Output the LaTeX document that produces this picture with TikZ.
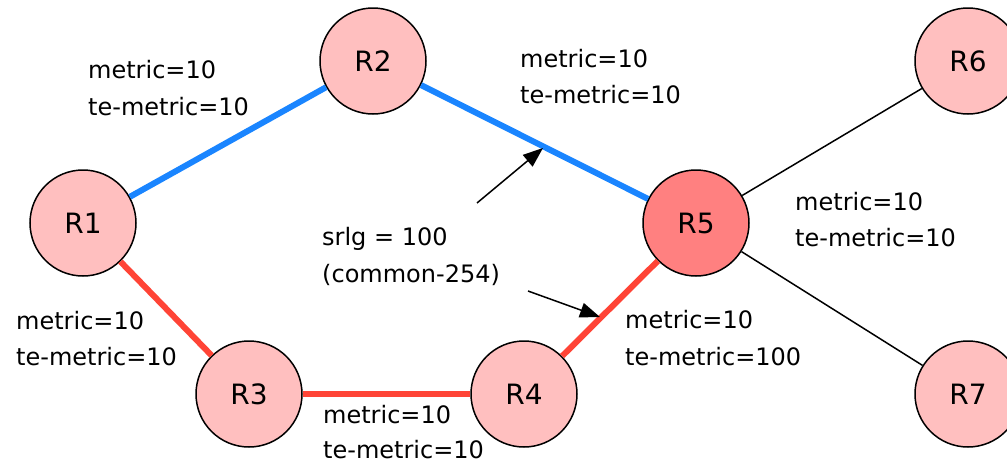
\documentclass[tikz,border=0pt]{standalone}
\usepackage{fontspec}
\setmainfont{DejaVu Sans}
\usetikzlibrary{arrows.meta}
\definecolor{routerfill}{HTML}{FFBFBF}
\definecolor{hotfill}{HTML}{FF8080}
\definecolor{pathblue}{HTML}{1A85FF}
\definecolor{pathred}{HTML}{FF4436}
\tikzset{
  router/.style={circle, draw=black, line width=1.5pt, fill=routerfill,
    minimum size=106pt, inner sep=0pt, font=\fontsize{28}{30}\selectfont},
  hot/.style={router, fill=hotfill},
  bluelink/.style={draw=pathblue, line width=6pt},
  redlink/.style={draw=pathred, line width=6pt},
  thinlink/.style={draw=black, line width=1.5pt},
  lab/.style={anchor=base west, inner sep=0pt, font=\fontsize{24}{28}\selectfont},
  pointer/.style={draw=black, line width=1.5pt, -{Triangle[length=20pt,width=15pt]}}
}
\begin{document}
\begin{tikzpicture}[x=1pt,y=-1pt]
\useasboundingbox (0,0) rectangle (1007,464);

% routers
\node[router] (R1) at (83,223) {R1};
\node[router] (R2) at (373,61) {R2};
\node[router] (R3) at (249,394) {R3};
\node[router] (R4) at (524,394) {R4};
\node[hot]    (R5) at (696,223) {R5};
\node[router] (R6) at (968,61) {R6};
\node[router] (R7) at (968,394) {R7};

% links between routers
\draw[bluelink] (R1) -- (R2);
\draw[bluelink] (R2) -- (R5);
\draw[redlink] (R1) -- (R3);
\draw[redlink] (R3) -- (R4);
\draw[redlink] (R4) -- (R5);
\draw[thinlink] (R5) -- (R6);
\draw[thinlink] (R5) -- (R7);

% link metrics
\node[lab] (m12a) at (88,78)  {metric=10};
\node[lab] (m12b) at (88,115) {te-metric=10};
\node[lab] (m25a) at (520,67)  {metric=10};
\node[lab] (m25b) at (520,103) {te-metric=10};
\node[lab] (m57a) at (795,210) {metric=10};
\node[lab] (m57b) at (795,246) {te-metric=10};
\node[lab] (m13a) at (16,329) {metric=10};
\node[lab] (m13b) at (16,365) {te-metric=10};
\node[lab] (m34a) at (323,423) {metric=10};
\node[lab] (m34b) at (323,458) {te-metric=10};
\node[lab] (m45a) at (625,328) {metric=10};
\node[lab] (m45b) at (625,365) {te-metric=100};

% shared risk link group note
\node[lab] (srlg) at (322,245) {srlg = 100};
\node[lab] (comm) at (322,282) {(common-254)};
\coordinate (tailA) at (477,203);
\coordinate (headA) at (543,148);
\coordinate (tailB) at (528,291);
\coordinate (headB) at (600,317);
\draw[pointer] (tailA) -- (headA);
\draw[pointer] (tailB) -- (headB);
\end{tikzpicture}
\end{document}
